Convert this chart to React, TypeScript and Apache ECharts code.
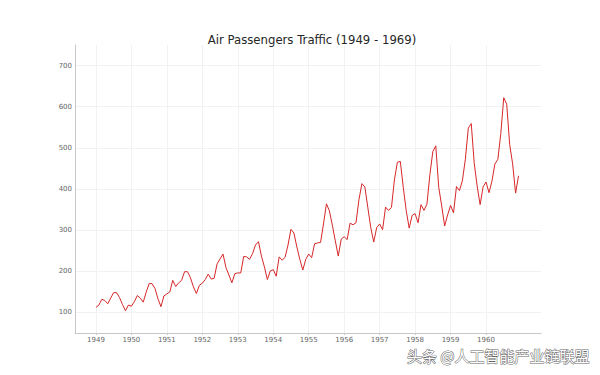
import React, { useEffect, useRef } from "react";
import * as echarts from "echarts";

const years = [1949, 1950, 1951, 1952, 1953, 1954, 1955, 1956, 1957, 1958, 1959, 1960];
const passengers: number[][] = [
  [112, 118, 132, 129, 121, 135, 148, 148, 136, 119, 104, 118],
  [115, 126, 141, 135, 125, 149, 170, 170, 158, 133, 114, 140],
  [145, 150, 178, 163, 172, 178, 199, 199, 184, 162, 146, 166],
  [171, 180, 193, 181, 183, 218, 230, 242, 209, 191, 172, 194],
  [196, 196, 236, 235, 229, 243, 264, 272, 237, 211, 180, 201],
  [204, 188, 235, 227, 234, 264, 302, 293, 259, 229, 203, 229],
  [242, 233, 267, 269, 270, 315, 364, 347, 312, 274, 237, 278],
  [284, 277, 317, 313, 318, 374, 413, 405, 355, 306, 271, 306],
  [315, 301, 356, 348, 355, 422, 465, 467, 404, 347, 305, 336],
  [340, 318, 362, 348, 363, 435, 491, 505, 404, 359, 310, 337],
  [360, 342, 406, 396, 420, 472, 548, 559, 463, 407, 362, 405],
  [417, 391, 419, 461, 472, 535, 622, 606, 508, 461, 390, 432],
];
const yTicks = [100, 200, 300, 400, 500, 600, 700];
const xTicks = years;

const title = "Air Passengers Traffic (1949 - 1969)";
const watermark = "头条 @人工智能产业链联盟";

export default function App() {
  const ref = useRef<HTMLDivElement>(null);
  useEffect(() => {
    if (!ref.current) return;
    const chart = echarts.init(ref.current, undefined, { renderer: "svg" });
    const data: [number, number][] = [];
    years.forEach((y, i) => {
      passengers[i].forEach((v, m) => data.push([y + m / 12, v]));
    });
    chart.setOption({
      animation: false,
      backgroundColor: "#ffffff",
      title: {
        text: title,
        left: 307,
        textAlign: "center",
        top: 29,
        textStyle: {
          fontFamily: "DejaVu Sans",
          fontSize: 11.7,
          fontWeight: "normal",
          color: "#262626",
        },
      },
      grid: { left: 75, top: 45, right: 59, bottom: 42, containLabel: false },
      xAxis: {
        type: "value",
        min: 1948.41,
        max: 1961.55,
        axisLine: { show: true, lineStyle: { color: "#c8c8c8", width: 1 } },
        axisTick: {
          show: true,
          customValues: xTicks,
          length: 2,
          lineStyle: { color: "#c8c8c8" },
        },
        axisLabel: {
          customValues: xTicks,
          fontFamily: "DejaVu Sans",
          fontSize: 7,
          color: "#666",
          margin: 3,
          formatter: (v: number) => String(Math.round(v)),
        },
        splitLine: { show: true, lineStyle: { color: "#f2f2f2", width: 1 } },
      },
      yAxis: {
        type: "value",
        min: 50,
        max: 750,
        axisLine: { show: true, lineStyle: { color: "#c8c8c8", width: 1 } },
        axisTick: {
          show: false,
          customValues: yTicks,
        },
        axisLabel: {
          customValues: yTicks,
          fontFamily: "DejaVu Sans",
          fontSize: 7,
          color: "#666",
          margin: 3,
        },
        splitLine: { show: true, lineStyle: { color: "#f2f2f2", width: 1 } },
      },
      series: [
        {
          type: "line",
          data,
          showSymbol: false,
          symbol: "none",
          lineStyle: { color: "#d62728", width: 1 },
        },
      ],
      graphic: [
        {
          type: "text",
          right: 10,
          top: 347,
          style: {
            text: watermark,
            font: '15px "Noto Sans CJK SC"',
            fill: "#ffffff",
            stroke: "#666",
            lineWidth: 1,
          },
        },
      ],
    });
    return () => chart.dispose();
  }, []);
  return (
    <div
      ref={ref}
      style={{ position: "absolute", left: 0, top: 0, width: 600, height: 375 }}
    />
  );
}
